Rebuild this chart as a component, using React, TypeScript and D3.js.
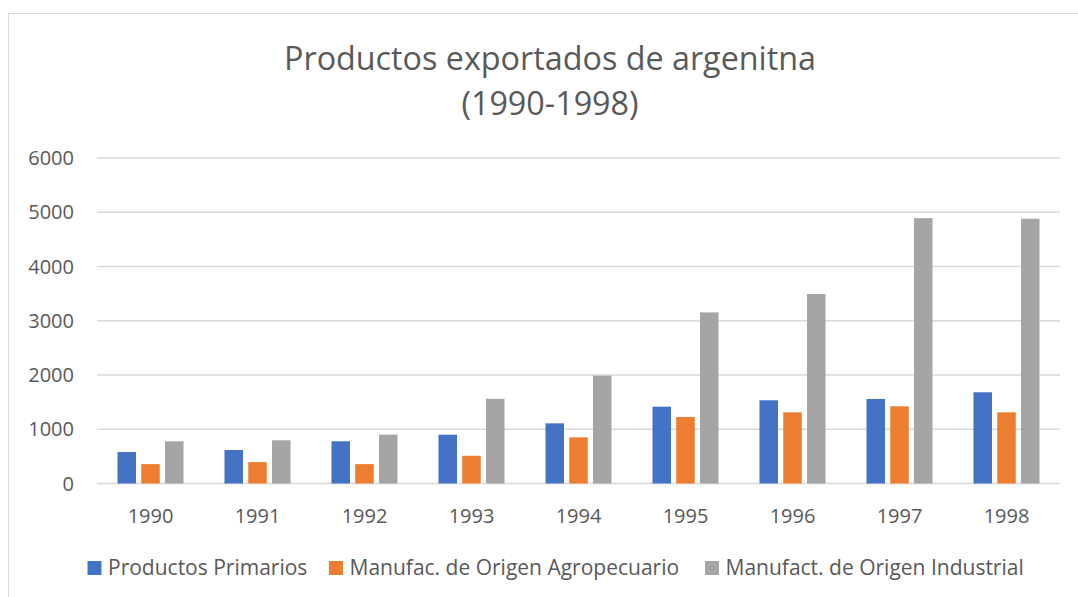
import React from "react";
import * as d3 from "d3";

const years = ["1990", "1991", "1992", "1993", "1994", "1995", "1996", "1997", "1998"];
const seriesNames = ["Productos Primarios", "Manufac. de Origen Agropecuario", "Manufact. de Origen Industrial"];
const primarios = [580, 617, 778, 900, 1109, 1416, 1534, 1558, 1682];
const agropecuario = [357, 394, 357, 511, 850, 1226, 1312, 1423, 1312];
const industrial = [778, 796, 900, 1561, 1989, 3154, 3494, 4891, 4880];
const yTicks = [0, 1000, 2000, 3000, 4000, 5000, 6000];
const colors = ["#4472C4", "#ED7D31", "#A5A5A5"];

const W = 1078;
const H = 597;
const FONT = "'Open Sans', Lato, sans-serif";
const TEXT = "#595959";

export default function App() {
  const seriesData = [primarios, agropecuario, industrial];
  const x0 = d3.scaleBand().domain(years).range([97, 1060]).paddingInner(0.383).paddingOuter(0.1915);
  const x1 = d3.scaleBand().domain(seriesNames).range([0, x0.bandwidth()]).paddingInner(0.22);
  const y = d3.scaleLinear().domain([0, 6000]).range([483.5, 158]);

  const legendX = [87.5, 329, 705];

  return (
    <svg width={W} height={H} style={{ position: "absolute", left: 0, top: 0, background: "#fff" }}>
      <rect x={8.5} y={13.5} width={1100} height={620} fill="#fff" stroke="#D9D9D9" strokeWidth={1} />
      <text x={550} y={69.5} textAnchor="middle" fontFamily={FONT} fontSize={32.3} fill={TEXT}>
        Productos exportados de argenitna
      </text>
      <text x={550} y={114.5} textAnchor="middle" fontFamily={FONT} fontSize={32.3} fill={TEXT}>
        (1990-1998)
      </text>
      {yTicks.map((t) => (
        <g key={t}>
          <line x1={97} x2={1060} y1={y(t)} y2={y(t)} stroke="#D9D9D9" strokeWidth={1.5} />
          <text x={74} y={y(t)} dy="0.36em" textAnchor="end" fontFamily={FONT} fontSize={20} fill={TEXT}>
            {t}
          </text>
        </g>
      ))}
      {years.map((yr, i) => (
        <g key={yr}>
          {seriesNames.map((s, j) => {
            const v = seriesData[j][i];
            return (
              <rect
                key={s}
                x={(x0(yr) as number) + (x1(s) as number)}
                y={y(v)}
                width={x1.bandwidth()}
                height={y(0) - y(v)}
                fill={colors[j]}
              />
            );
          })}
          <text
            x={(x0(yr) as number) + x0.bandwidth() / 2}
            y={523}
            textAnchor="middle"
            fontFamily={FONT}
            fontSize={20}
            fill={TEXT}
          >
            {yr}
          </text>
        </g>
      ))}
      {seriesNames.map((s, j) => (
        <g key={s}>
          <rect x={legendX[j]} y={561} width={14} height={14} fill={colors[j]} />
          <text x={legendX[j] + 20.5} y={575} fontFamily={FONT} fontSize={21} fill={TEXT}>
            {s}
          </text>
        </g>
      ))}
    </svg>
  );
}
